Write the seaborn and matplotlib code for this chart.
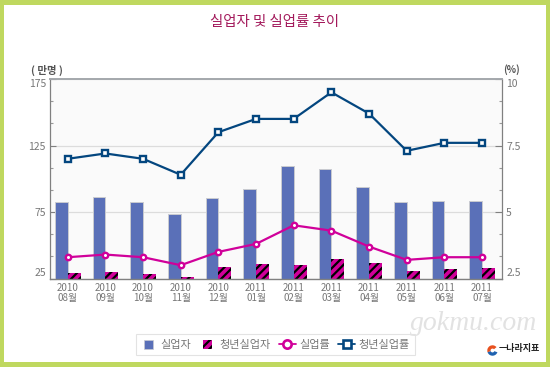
import numpy as np
import pandas as pd
import seaborn as sns
import matplotlib
matplotlib.use("Agg")
import matplotlib.pyplot as plt
from matplotlib.patches import Rectangle, Patch, Wedge
from matplotlib.lines import Line2D
from matplotlib.legend_handler import HandlerPatch
from matplotlib.ticker import FixedLocator

months = ["2010\n08월", "2010\n09월", "2010\n10월", "2010\n11월", "2010\n12월", "2011\n01월",
          "2011\n02월", "2011\n03월", "2011\n04월", "2011\n05월", "2011\n06월", "2011\n07월"]
unemployed = [82.7, 86, 82.7, 73.7, 85.3, 92, 109.6, 107, 94, 82.3, 83.5, 83.5]
youth_unemployed = [29, 30, 28.4, 26, 33.6, 36, 35, 39.4, 36.4, 31, 32, 33]
rate = [3.3, 3.4, 3.3, 3.0, 3.5, 3.8, 4.5, 4.3, 3.7, 3.2, 3.3, 3.3]
youth_rate = [7.0, 7.2, 7.0, 6.4, 8.0, 8.5, 8.5, 9.5, 8.7, 7.3, 7.6, 7.6]
left_ticks = [25, 75, 125, 175]
right_ticks = [2.5, 5, 7.5, 10]
right_labels = ["2.5", "5", "7.5", "10"]

BLUE, MAGENTA, NAVY = "#5A70B8", "#D0009A", "#03467F"
GREEN, TXT = "#BFD85F", "#777777"

sns.set_theme(style="white")
plt.rcParams["font.family"] = ["Noto Sans CJK KR", "DejaVu Sans"]
plt.rcParams["hatch.linewidth"] = 1.6

W, H = 550, 367
fig = plt.figure(figsize=(W / 100, H / 100), dpi=100, facecolor=GREEN)
fig.add_artist(Rectangle((4 / W, 1 - 362 / H), 542 / W, 357 / H, transform=fig.transFigure,
                         facecolor="white", edgecolor="none", zorder=-5))
ax = fig.add_axes([50 / W, 1 - 278.5 / H, 452 / W, 199.5 / H], facecolor="#FAFAFA")

df = pd.DataFrame({
    "month": months * 2,
    "value": unemployed + youth_unemployed,
    "series": ["실업자"] * 12 + ["청년실업자"] * 12,
})
sns.barplot(data=df, x="month", y="value", hue="series", palette=[BLUE, MAGENTA],
            width=0.68, gap=0.0, dodge=True, legend=False, ax=ax, zorder=2, saturation=1)
n = len(months)
for p in ax.patches[:n]:
    p.set_edgecolor("#C9CBD0")
    p.set_linewidth(0.7)
for p in ax.patches[n:]:
    p.set_edgecolor("black")
    p.set_linewidth(0)
    p.set_hatch("////")

ax.set_xlim(-0.47, 11.53)
ax.set_ylim(25, 175)
ax.set_xlabel("")
ax.set_ylabel("")
ax.set_yticks(left_ticks)
ax.yaxis.set_minor_locator(FixedLocator(np.arange(25, 175, 50 / 3)))
ax.grid(axis="y", which="major", color="#DCDCDC", linewidth=0.9, zorder=0)
ax.set_axisbelow(True)
ax.tick_params(axis="y", which="major", direction="in", length=4, width=0.8, color="#808080",
               labelsize=7.5, labelcolor=TXT, pad=3, left=True)
ax.tick_params(axis="y", which="minor", direction="in", length=2, width=0.8, color="#999999", left=True)
ax.tick_params(axis="x", length=0, labelsize=7, labelcolor=TXT, pad=3)
for lab in ax.get_xticklabels():
    lab.set_linespacing(1.0)
ylabs = ax.get_yticklabels()
ylabs[0].set_va("bottom")
ylabs[-1].set_va("top")

ax2 = ax.twinx()
x = np.arange(n)
sns.lineplot(x=x, y=rate, color=MAGENTA, linewidth=1.6, marker="o", markersize=3.9, markerfacecolor="white",
             markeredgecolor=MAGENTA, markeredgewidth=1.7, ax=ax2, zorder=5)
sns.lineplot(x=x, y=youth_rate, color=NAVY, linewidth=1.6, marker="s", markersize=3.9, markerfacecolor="white",
             markeredgecolor=NAVY, markeredgewidth=1.7, ax=ax2, zorder=5)
ax2.set_ylim(2.5, 10)
ax2.set_yticks(right_ticks)
ax2.set_yticklabels(right_labels)
ax2.yaxis.set_minor_locator(FixedLocator(np.arange(2.5, 10, 2.5 / 3)))
ax2.tick_params(axis="y", which="major", direction="in", length=5, width=0.8, color="#808080",
                labelsize=7.5, labelcolor=TXT, pad=3, right=True)
ax2.tick_params(axis="y", which="minor", direction="in", length=2, width=0.8, color="#999999", right=True)
ax2.grid(False)
rlabs = ax2.get_yticklabels()
rlabs[0].set_va("bottom")
rlabs[-1].set_va("top")

for side in ax.spines:
    ax.spines[side].set_visible(False)
for side, col, lw in [("top", "#A4A8AC", 1.4), ("left", "#808080", 0.9),
                      ("right", "#808080", 0.9), ("bottom", "#808080", 1.0)]:
    ax2.spines[side].set_visible(True)
    ax2.spines[side].set_color(col)
    ax2.spines[side].set_linewidth(lw)

def fx(px): return px / W
def fy(py): return 1 - py / H

fig.text(fx(275), fy(22), "실업자 및 실업률 추이", ha="center", va="center", color="#A3195B",
         fontsize=10.4, fontweight="medium")
fig.text(fx(47), fy(70), "( 만명 )", ha="center", va="center", color="#555555", fontsize=7.5, fontweight="bold")
fig.text(fx(511), fy(70), "(%)", ha="center", va="center", color="#555555", fontsize=7, fontweight="bold")

def square_patch(legend, orig_handle, xdescent, ydescent, width, height, fontsize):
    side = 6.5
    return Rectangle((width / 2 - side / 2 - xdescent, height / 2 - side / 2 - ydescent), side, side)

handles = [
    Patch(facecolor=BLUE, edgecolor="#C9CBD0", linewidth=0.5),
    Patch(facecolor=MAGENTA, edgecolor="black", linewidth=0, hatch="////"),
    Line2D([], [], color=MAGENTA, lw=1.3, marker="o", ms=6, mfc="white", mec=MAGENTA, mew=1.9),
    Line2D([], [], color=NAVY, lw=1.3, marker="s", ms=5.5, mfc="white", mec=NAVY, mew=1.9),
]
leg = fig.legend(handles, ["실업자", "청년실업자", "실업률", "청년실업률"], ncol=4, loc="center",
                 bbox_to_anchor=(fx(275), fy(344.5)), frameon=True, fontsize=8, labelcolor=TXT,
                 handlelength=1.5, handleheight=1.0, columnspacing=0.75, handletextpad=0.3,
                 borderpad=0.45, borderaxespad=0, fancybox=False, edgecolor="#DDDDDD", facecolor="white",
                 handler_map={Patch: HandlerPatch(patch_func=square_patch)})
leg.get_frame().set_linewidth(0.8)

fig.text(fx(474), fy(323), "gokmu.com", ha="center", va="center", color="#E2E2E2", fontsize=20,
         family="Liberation Serif", style="italic", zorder=6)
fig.text(fx(519), fy(349), "ㅡ나라지표", ha="center", va="center", color="#222222", fontsize=6.5, fontweight="bold")

logo = fig.add_axes([487 / W, 1 - 356 / H, 11 / W, 11 / H])
logo.axis("off")
logo.set_aspect("equal")
logo.set_xlim(-1, 1)
logo.set_ylim(-1, 1)
logo.add_patch(Wedge((0, 0), 0.95, 40, 200, width=0.6, facecolor="#E8501E", edgecolor="none"))
logo.add_patch(Wedge((0, 0), 0.95, 200, 340, width=0.6, facecolor="#1F62B0", edgecolor="none"))

fig.savefig("out.png", dpi=100, facecolor=fig.get_facecolor())
